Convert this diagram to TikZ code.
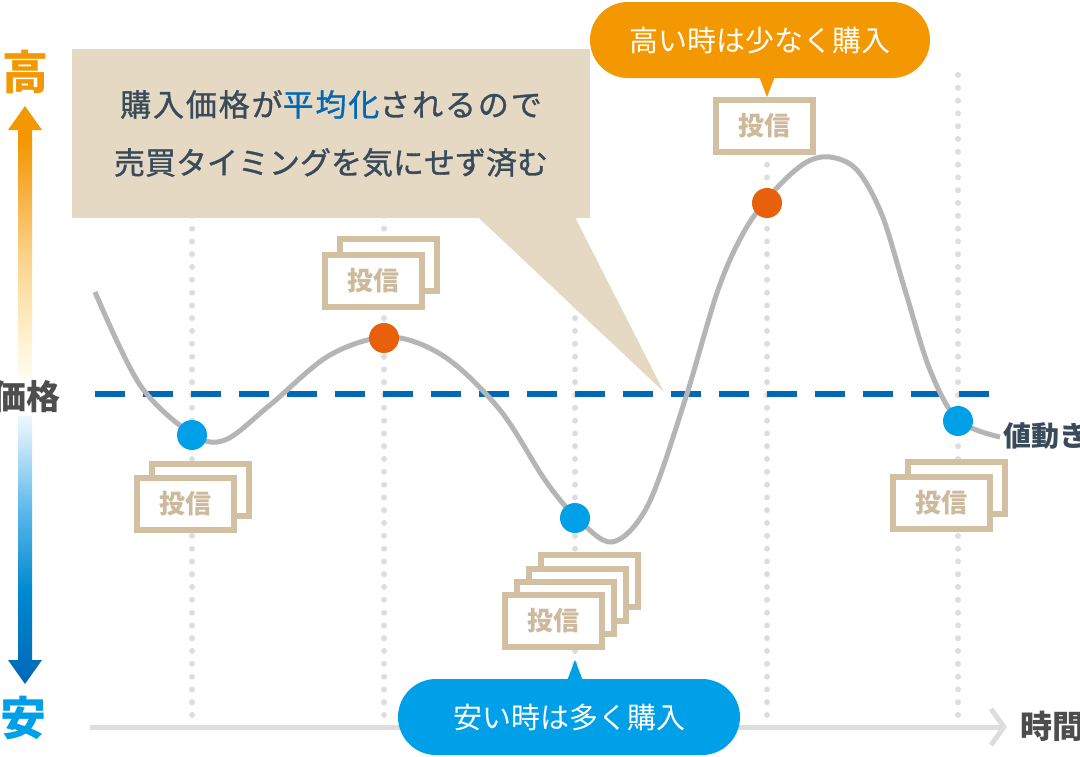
\documentclass[tikz,border=0pt]{standalone}
\usepackage{fontspec}
\setmainfont{Noto Sans CJK JP}
\usetikzlibrary{arrows.meta}

\definecolor{dblue}{HTML}{0068B7}
\definecolor{sblue}{HTML}{00A0E9}
\definecolor{orng}{HTML}{F39800}
\definecolor{rorng}{HTML}{E8600A}
\definecolor{beige}{HTML}{D3C0A3}
\definecolor{fundtext}{HTML}{CDB99C}
\definecolor{cream}{HTML}{E6D9C3}
\definecolor{slate}{HTML}{394A5A}
\definecolor{lgray}{HTML}{DDDDDD}
\definecolor{cgray}{HTML}{B5B5B5}
\definecolor{dgray}{HTML}{4D4D4D}
\definecolor{shA}{HTML}{0088D0}
\definecolor{shB}{HTML}{5BB8EA}
\definecolor{shC}{HTML}{DDF0FB}
\definecolor{shD}{HTML}{FFF5D8}
\definecolor{shE}{HTML}{FBD38A}
\definecolor{shF}{HTML}{F6AD3A}
\pgfdeclareverticalshading{priceaxis}{100bp}{color(0bp)=(dblue); color(25bp)=(dblue);
  color(33bp)=(shA); color(40bp)=(shB); color(47bp)=(shC); color(50bp)=(white);
  color(54bp)=(shD); color(62bp)=(shE); color(68bp)=(shF); color(72bp)=(orng);
  color(75bp)=(orng); color(100bp)=(orng)}

\begin{document}
\begin{tikzpicture}[x=1pt,y=-1pt]
    \tikzstyle{grid} = [lgray,line width=6pt,line cap=round,dash pattern=on 0pt off 12.8pt]
    \tikzstyle{fund} = [draw=beige,line width=6pt,fill=white,minimum width=97pt,minimum height=52pt,inner sep=0pt,text=fundtext,font=\bfseries\fontsize{26}{26}\selectfont]
    \tikzstyle{buy} = [circle,fill=sblue,minimum size=30pt,inner sep=0pt]
    \tikzstyle{sell} = [circle,fill=rorng,minimum size=30pt,inner sep=0pt]
    \tikzstyle{pill} = [rounded corners=38pt,minimum width=340pt,minimum height=76pt,inner sep=0pt,text=white,font=\fontsize{29}{29}\selectfont]
    \tikzstyle{axislabel} = [inner sep=0pt,font=\bfseries\fontsize{46}{46}\selectfont]
    \useasboundingbox (0,0) rectangle (1080,756);
    \draw [grid] (192,75) -- (192,715);
    \draw [grid] (384,75) -- (384,715);
    \draw [grid] (575,75) -- (575,715);
    \draw [grid] (767,75) -- (767,715);
    \draw [grid] (958,75) -- (958,715);
    \coordinate (t0) at (90,727);
    \coordinate (t1) at (1003,727);
    \draw [lgray,line width=5pt] (t0) -- (t1);
    \draw [lgray,line width=5pt] (991,709) -- (1004,727) -- (991,745);
    \node [anchor=west,inner sep=0pt,text=dgray,font=\bfseries\fontsize{32}{32}\selectfont] (time) at (1020,726) {時間};
    \coordinate (m0) at (95,394);
    \coordinate (m1) at (992,394);
    \draw [dblue,line width=6.5pt,dash pattern=on 30pt off 18pt] (m0) -- (m1);
    \draw [cgray,line width=5pt] plot [smooth,tension=0.55] coordinates {(95,292) (140,385) (192,434) (225,440) (270,405) (330,355) (390,337) (445,357) (500,410) (545,480) (575,516) (612,542) (648,505) (685,400) (718,290) (745,230) (775,190) (805,163) (830,157) (857,170) (882,215) (905,290) (930,370) (958,420) (1000,437)};
    \node [buy] (b1) at (192,435) {};
    \node [sell] (s1) at (384,338) {};
    \node [buy] (b2) at (575,518) {};
    \node [sell] (s2) at (767,203) {};
    \node [buy] (b3) at (958,421) {};
    \node [anchor=west,inner sep=0pt,text=slate,font=\bfseries\fontsize{28}{28}\selectfont] (move) at (1003,436) {値動き};
    \node [fund] (f1b) at (200,489.5) {};
    \node [fund] (f1) at (185,503.5) {投信};
    \node [fund] (f2b) at (388,265) {};
    \node [fund] (f2) at (373.5,281) {投信};
    \node [fund] (f3d) at (589.5,581) {};
    \node [fund] (f3c) at (577.5,594.5) {};
    \node [fund] (f3b) at (565.5,608) {};
    \node [fund] (f3) at (553.5,621) {投信};
    \node [fund] (f4) at (764.5,126) {投信};
    \node [fund] (f5b) at (956,487.5) {};
    \node [fund] (f5) at (941.5,502.5) {投信};
    \node [fill=cream,minimum width=518pt,minimum height=169pt,inner sep=0pt,align=center,text=slate,font=\addfontfeature{FakeBold=1}\fontsize{31}{58}\selectfont] (msg) at (331,133.5)
      {{\addfontfeature{LetterSpace=6}購入価格が\textcolor{dblue}{平均化}されるので}\\売買タイミングを気にせず済む};
    \coordinate (tip) at (664,392);
    \fill [cream] ([xshift=147pt,yshift=1pt]msg.south) -- (tip) -- ([xshift=244pt,yshift=1pt]msg.south) -- cycle;
    \node [pill,fill=orng] (high) at (760,40) {高い時は少なく購入};
    \coordinate (hightip) at (767,97);
    \fill [orng] ([xshift=-1pt,yshift=2pt]high.south) -- (hightip) -- ([xshift=15pt,yshift=2pt]high.south) -- cycle;
    \node [pill,fill=sblue,minimum width=342pt] (low) at (569,717) {安い時は多く購入};
    \coordinate (lowtip) at (575,660);
    \fill [sblue] ([xshift=-2pt,yshift=-2pt]low.north) -- (lowtip) -- ([xshift=14pt,yshift=-2pt]low.north) -- cycle;
    \shade [shading=priceaxis] (25,106) -- (42,130) -- (32,130) -- (32,660) -- (42,660) -- (25,684) -- (8,660) -- (18,660) -- (18,130) -- (8,130) -- cycle;
    \node [axislabel,text=orng] (hi) at (25,72) {高};
    \node [axislabel,text=sblue] (lo) at (24,718) {安};
    \node [fill=white,inner sep=3pt,text=dgray,font=\bfseries\fontsize{34}{34}\selectfont] (price) at (27,397) {価格};
\end{tikzpicture}
\end{document}
